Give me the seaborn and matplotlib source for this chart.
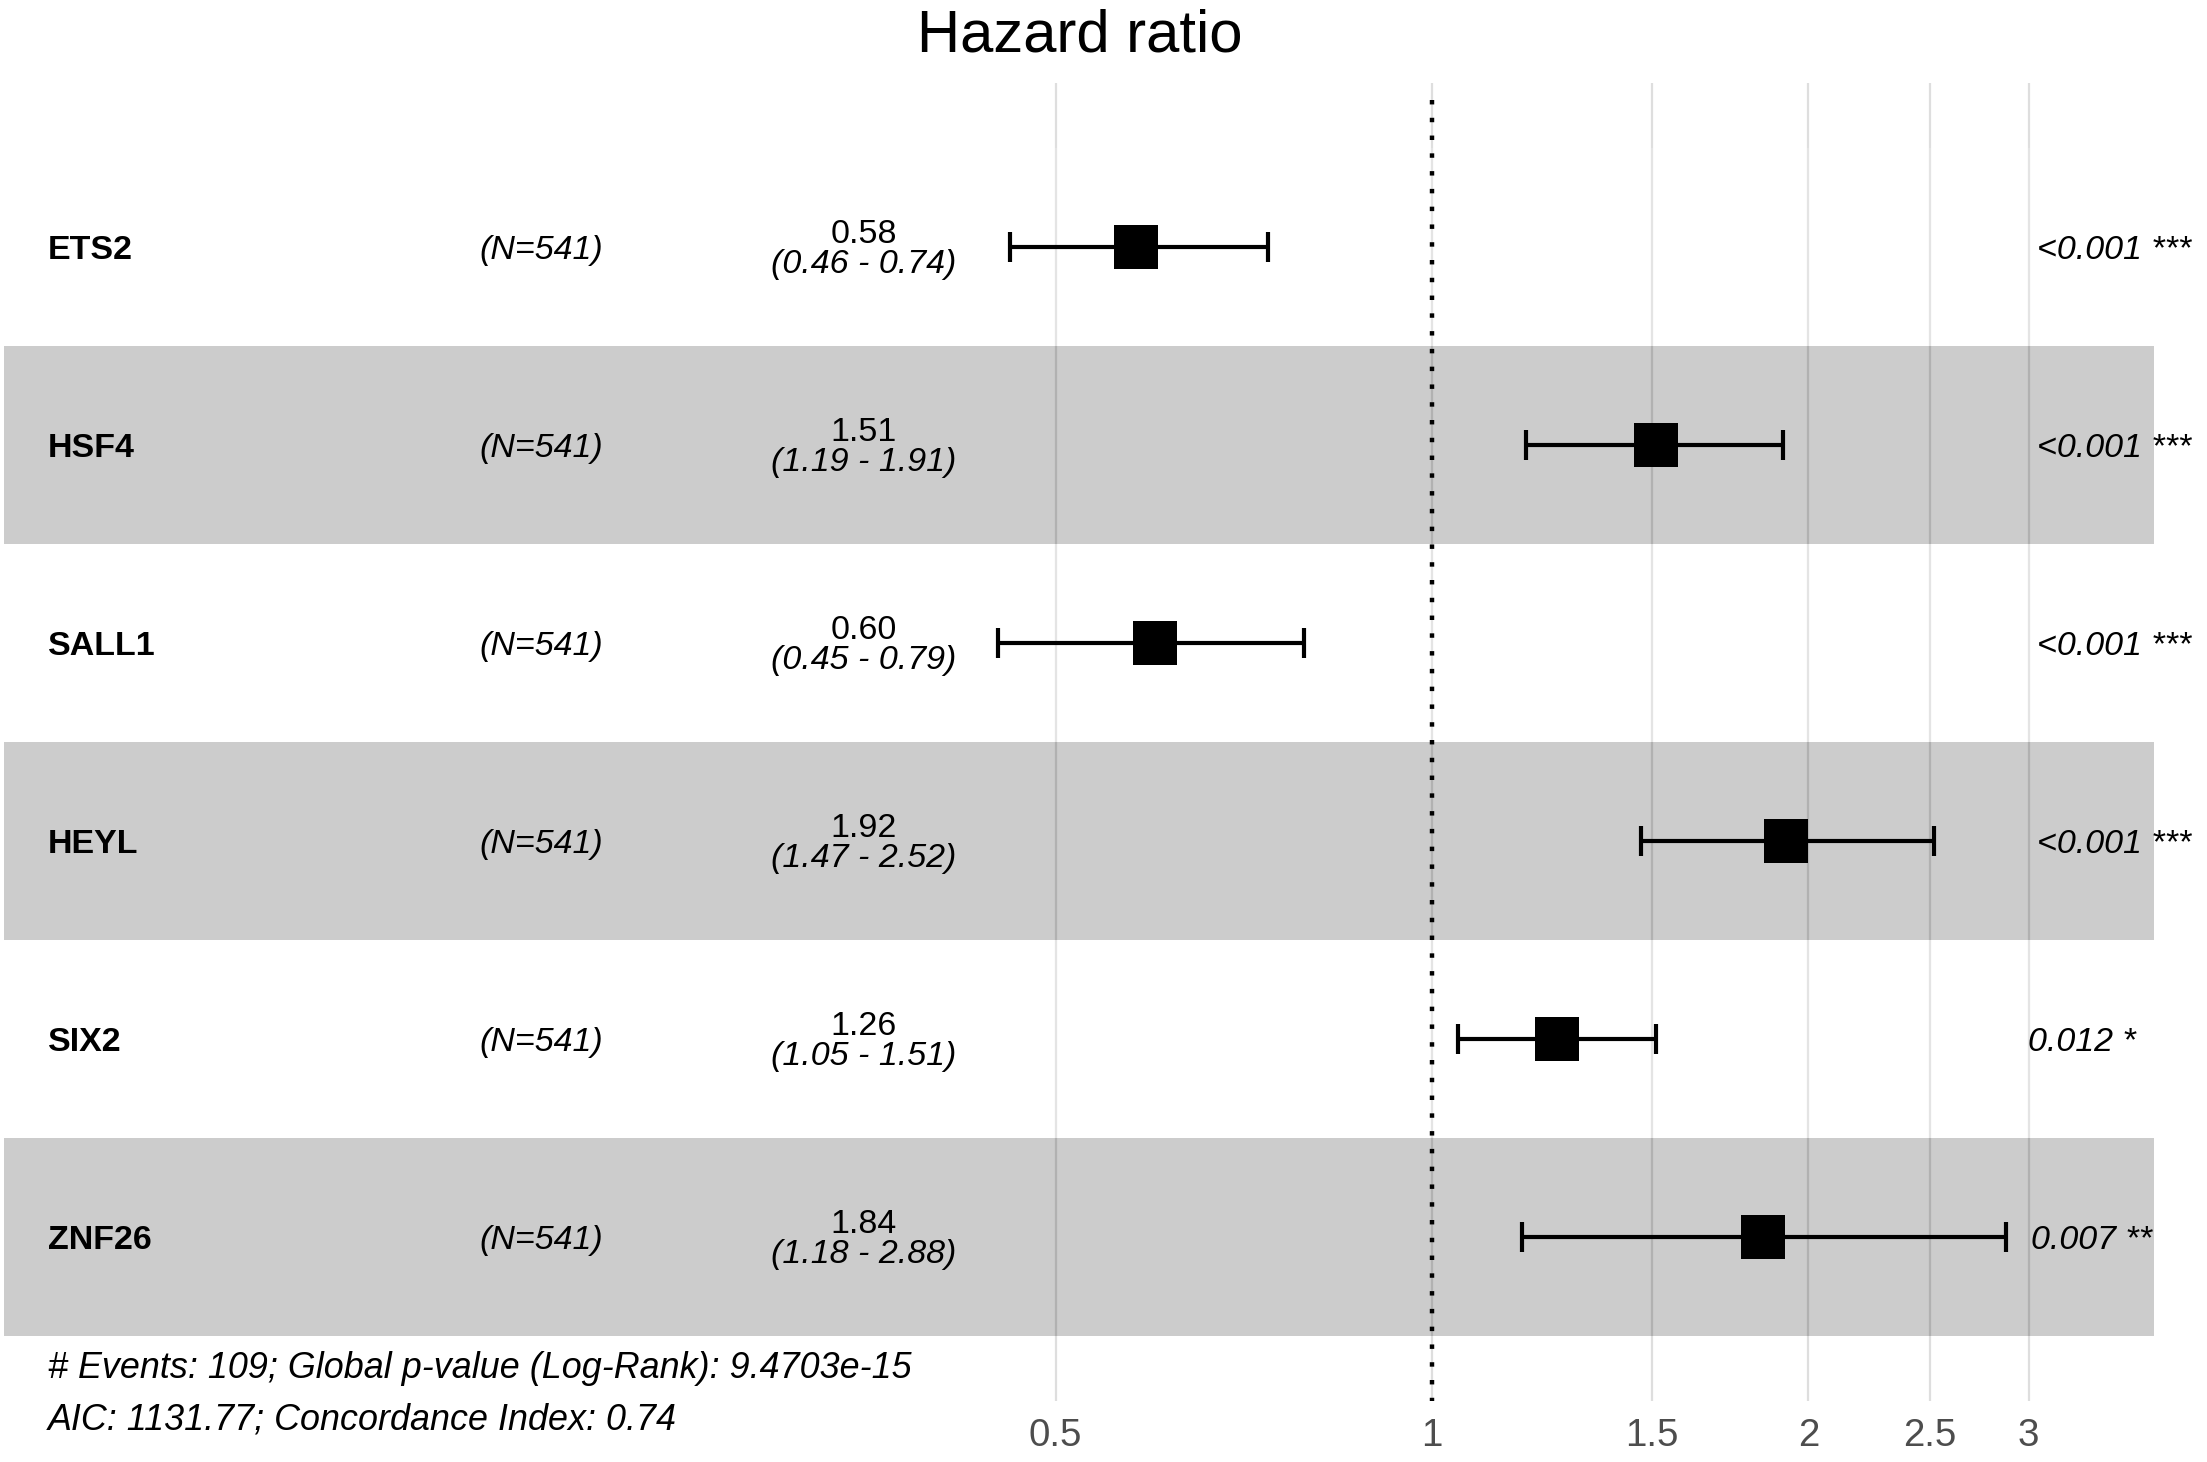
import numpy as np
import pandas as pd
import matplotlib
matplotlib.use("Agg")
import matplotlib.pyplot as plt
import seaborn as sns
from matplotlib.patches import Rectangle

# ---------------- data ----------------
genes = ["ETS2", "HSF4", "SALL1", "HEYL", "SIX2", "ZNF26"]
n_obs = [541, 541, 541, 541, 541, 541]
hr = [0.58, 1.51, 0.60, 1.92, 1.26, 1.84]
ci_low = [0.46, 1.19, 0.45, 1.47, 1.05, 1.18]
ci_high = [0.74, 1.91, 0.79, 2.52, 1.51, 2.88]
p_text = ["<0.001", "<0.001", "<0.001", "<0.001", "0.012", "0.007"]
stars = ["***", "***", "***", "***", "*", "**"]
x_ticks = [0.5, 1, 1.5, 2, 2.5, 3]
x_tick_labels = ["0.5", "1", "1.5", "2", "2.5", "3"]
n_events = 109
global_p = "9.4703e-15"
aic = 1131.77
cindex = 0.74
title = "Hazard ratio"

# ---------------- layout ----------------
W, H, DPI = 2207, 1462, 100
PX1 = 1432.0      # pixel column of HR = 1
K = 543.0         # pixels per natural-log unit
def px2x(px):
    return float(np.exp((px - PX1) / K))

sns.set_style("white")
plt.rcParams["font.family"] = ["Liberation Sans", "DejaVu Sans"]
plt.rcParams["text.color"] = "black"

fig = plt.figure(figsize=(W / DPI, H / DPI), dpi=DPI)
panel_top, panel_bot = 83, 1401
ax = fig.add_axes([0, (H - panel_bot) / H, 1, (panel_bot - panel_top) / H])
ax.set_xscale("log")
ax.set_xlim(px2x(0), px2x(W))
row_h = 198.0
def py2y(py):
    return 6.5 + (148 - py) / row_h
ax.set_ylim(py2y(panel_bot), py2y(panel_top))

nrow = len(genes)
df = pd.DataFrame({
    "gene": genes, "n": n_obs, "hr": hr, "lo": ci_low, "hi": ci_high,
    "p": p_text, "stars": stars,
})
df["ypos"] = np.arange(nrow, 0, -1)

# grid lines
for t in x_ticks:
    ax.axvline(t, color="#DEDEDE", lw=1.6, zorder=0.5)

# alternating bands
band_lo, band_hi = px2x(4), px2x(2154)
for _, r in df.iterrows():
    gray = (r.ypos % 2) == 1
    ax.add_patch(Rectangle((band_lo, r.ypos - 0.5), band_hi - band_lo, 1.0,
                           facecolor=("black" if gray else "white"), alpha=0.2,
                           edgecolor="none", zorder=1))

# points and error bars
sns.scatterplot(data=df, x="hr", y="ypos", marker="s", s=31 ** 2, color="black",
                linewidth=0, ax=ax, legend=False, zorder=3)
ax.errorbar(df["hr"], df["ypos"], xerr=[df["hr"] - df["lo"], df["hi"] - df["hr"]],
            fmt="none", ecolor="black", elinewidth=3.0, capsize=10.8, capthick=3.0,
            zorder=2.5)
# reference line at HR = 1 (dotted), drawn from top downwards
ax.plot([1, 1], [py2y(100), py2y(panel_bot)], color="black", lw=3.2,
        linestyle=(0, (1, 3)), zorder=4)

# ticks
ax.set_xticks(x_ticks)
ax.set_xticklabels(x_tick_labels)
ax.minorticks_off()
ax.set_yticks([])
ax.tick_params(axis="x", colors="#B3B3B3", labelcolor="#4D4D4D", labelsize=27.7,
               length=4.3, width=1.0, pad=8, direction="out")
for s in ax.spines.values():
    s.set_visible(False)
ax.set_xlabel("")
ax.set_ylabel("")

pt = 72.0 / DPI   # points per pixel
label_x = px2x(48)
n_x = px2x(479)
ci_x = px2x(864)
anchor = max(ci_high)
star_anns = []
for _, r in df.iterrows():
    ax.annotate(r.gene, xy=(label_x, r.ypos), xytext=(0, -12 * pt), textcoords="offset points",
                ha="left", va="baseline", fontsize=24.5, fontweight="bold", zorder=5)
    ax.annotate(f"(N={r.n})", xy=(n_x, r.ypos), xytext=(0, -12 * pt), textcoords="offset points",
                ha="left", va="baseline", fontsize=24.5, fontstyle="italic", zorder=5)
    ax.annotate(f"{r.hr:.2f}", xy=(ci_x, r.ypos), xytext=(0, 4 * pt), textcoords="offset points",
                ha="center", va="baseline", fontsize=24.5, zorder=5)
    ax.annotate(f"({r.lo:.2f} - {r.hi:.2f})", xy=(ci_x, r.ypos), xytext=(0, -26 * pt),
                textcoords="offset points", ha="center", va="baseline", fontsize=24.5,
                fontstyle="italic", zorder=5)
    a = ax.annotate(f"{r.p} {r.stars}", xy=(anchor, r.ypos), xytext=(0, -12 * pt),
                    textcoords="offset points", ha="left", va="baseline", fontsize=24.5,
                    fontstyle="italic", zorder=5, annotation_clip=False)
    star_anns.append(a)

fig.canvas.draw()
rend = fig.canvas.get_renderer()
for a in star_anns:
    w = a.get_window_extent(rend).width
    a.xyann = (0.2 * w * pt, -12 * pt)

fig.text(1080 / W, 1 - 52 / H, title, ha="center", va="baseline", fontsize=43)
fig.text(48 / W, 1 - 1378 / H,
         f"# Events: {n_events}; Global p-value (Log-Rank): {global_p}",
         ha="left", va="baseline", fontsize=25.8, fontstyle="italic")
fig.text(48 / W, 1 - 1429 / H,
         f"AIC: {aic:.2f}; Concordance Index: {cindex:.2f}",
         ha="left", va="baseline", fontsize=25.8, fontstyle="italic")

fig.savefig("out.png", dpi=DPI, facecolor="white")
